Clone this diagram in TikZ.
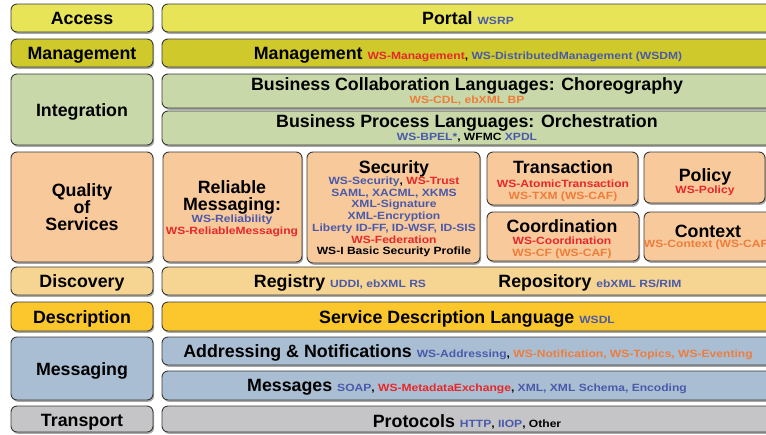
\documentclass[tikz,border=0pt]{standalone}
\usepackage{fontspec}
\setmainfont{Liberation Sans}
\newfontfamily\subfam[FakeStretch=1.15]{Liberation Sans}
\usetikzlibrary{shadows}
\definecolor{cAccess}{RGB}{231,228,88}
\definecolor{cMgmt}{RGB}{207,201,44}
\definecolor{cInteg}{RGB}{200,216,168}
\definecolor{cQos}{RGB}{248,201,155}
\definecolor{cDisc}{RGB}{246,212,145}
\definecolor{cDesc}{RGB}{251,199,44}
\definecolor{cMsg}{RGB}{169,190,211}
\definecolor{cTrans}{RGB}{197,197,199}
\definecolor{cBorder}{RGB}{58,58,58}
\definecolor{tblue}{RGB}{74,90,170}
\definecolor{tred}{RGB}{230,40,40}
\definecolor{torange}{RGB}{238,125,60}
\newcommand\mainfnt{\fontsize{17.8}{17.8}\selectfont\bfseries}
\newcommand\subtx{\subfam\fontsize{10.5}{11.7}\selectfont\bfseries}
\newcommand\cbl[1]{{\color{tblue}#1}}
\newcommand\crd[1]{{\color{tred}#1}}
\newcommand\cor[1]{{\color{torange}#1}}
\tikzset{
  box/.style={draw=cBorder, line width=0.9pt, rounded corners=6pt,
    drop shadow={shadow xshift=1.2pt, shadow yshift=-1.8pt, fill=black, opacity=0.35}},
  lbl/.style={anchor=base, inner sep=0pt, font=\mainfnt},
  sub/.style={anchor=base, inner sep=0pt, font=\subtx},
}
\begin{document}
\begin{tikzpicture}[x=1pt,y=-1pt]
\useasboundingbox (0,0) rectangle (766,434);
\clip (0,0) rectangle (766,434);
% Access
\draw[box,fill=cAccess] (11,4) rectangle (153,32);
\draw[box,fill=cAccess] (162,4) rectangle (772,32);
% Management
\draw[box,fill=cMgmt] (11,39) rectangle (153,67);
\draw[box,fill=cMgmt] (162,39) rectangle (772,67);
% Integration
\draw[box,fill=cInteg] (11,74) rectangle (153,145);
\draw[box,fill=cInteg] (162,74) rectangle (772,108);
\draw[box,fill=cInteg] (162,111) rectangle (772,145);
% QoS
\draw[box,fill=cQos] (11,152) rectangle (153,262);
\draw[box,fill=cQos] (163,152) rectangle (302,262);
\draw[box,fill=cQos] (307,152) rectangle (480,263);
\draw[box,fill=cQos] (487,152) rectangle (638,205);
\draw[box,fill=cQos] (644,152) rectangle (765,203);
\draw[box,fill=cQos] (487,212) rectangle (639,261);
\draw[box,fill=cQos] (644,212) rectangle (775,261);
% Discovery
\draw[box,fill=cDisc] (11,267) rectangle (153,295);
\draw[box,fill=cDisc] (162,267) rectangle (772,295);
% Description
\draw[box,fill=cDesc] (11,302) rectangle (153,331);
\draw[box,fill=cDesc] (162,302) rectangle (772,331);
% Messaging
\draw[box,fill=cMsg] (11,337) rectangle (153,400);
\draw[box,fill=cMsg] (162,337) rectangle (772,365);
\draw[box,fill=cMsg] (162,371) rectangle (772,400);
% Transport
\draw[box,fill=cTrans] (11,406) rectangle (153,432);
\draw[box,fill=cTrans] (162,406) rectangle (772,432);

% left labels
\node[lbl] (lAccess) at (82,24.5) {Access};
\node[lbl] (lMgmt) at (82,59) {Management};
\node[lbl] (lInteg) at (82,116) {Integration};
\node[lbl] (lQa) at (82,196.5) {Quality};
\node[lbl] (lQb) at (82,213.5) {of};
\node[lbl] (lQc) at (82,230) {Services};
\node[lbl] (lDisc) at (82,287) {Discovery};
\node[lbl] (lDesc) at (82,323) {Description};
\node[lbl] (lMsg) at (82,375) {Messaging};
\node[lbl] (lTrans) at (82,426) {Transport};

% right rows
\node[lbl] (portal) at (468,24.5) {Portal {\subtx\cbl{WSRP}}};
\node[lbl] (mgmt) at (468,59) {Management {\subtx\crd{WS-Management}, \cbl{WS-DistributedManagement (WSDM)}}};
\node[lbl] (chor) at (467,90) {Business Collaboration Languages: Choreography};
\node[sub] (chorS) at (467,103) {\cor{WS-CDL, ebXML BP}};
\node[lbl] (orch) at (467,127) {Business Process Languages: Orchestration};
\node[sub] (orchS) at (467,140) {\cbl{WS-BPEL*}, WFMC \cbl{XPDL}};

% Reliable messaging
\node[lbl] (relA) at (232,193) {Reliable};
\node[lbl] (relB) at (232,210) {Messaging:};
\node[sub] (relC) at (232,222) {\cbl{WS-Reliability}};
\node[sub] (relD) at (232,234) {\crd{WS-ReliableMessaging}};

% Security
\node[lbl] (sec) at (394,173) {Security};
\node[sub] (secA) at (394,184.5) {\cbl{WS-Security}, \crd{WS-Trust}};
\node[sub] (secB) at (394,196.2) {\cbl{SAML, XACML, XKMS}};
\node[sub] (secC) at (394,207.9) {\cbl{XML-Signature}};
\node[sub] (secD) at (394,219.6) {\cbl{XML-Encryption}};
\node[sub] (secE) at (394,231.3) {\cbl{Liberty ID-FF, ID-WSF, ID-SIS}};
\node[sub] (secF) at (394,243) {\crd{WS-Federation}};
\node[sub] (secG) at (394,254.7) {WS-I Basic Security Profile};

% Transaction
\node[lbl] (tx) at (563,173) {Transaction};
\node[sub] (txA) at (563,187.5) {\crd{WS-AtomicTransaction}};
\node[sub] (txB) at (563,199.5) {\cor{WS-TXM (WS-CAF)}};

% Policy
\node[lbl] (pol) at (705,181) {Policy};
\node[sub] (polA) at (705,193.5) {\crd{WS-Policy}};

% Coordination
\node[lbl] (coord) at (562,232) {Coordination};
\node[sub] (coordA) at (562,244) {\crd{WS-Coordination}};
\node[sub] (coordB) at (562,256) {\cor{WS-CF (WS-CAF)}};

% Context
\node[lbl] (ctx) at (708,237) {Context};
\node[sub] (ctxA) at (708,247.5) {\cor{WS-Context (WS-CAF)}};

% Discovery
\node[lbl] (reg) at (340,287) {Registry {\subtx\cbl{UDDI, ebXML RS}}};
\node[lbl] (repo) at (590,287) {Repository {\subtx\cbl{ebXML RS/RIM}}};

% Description
\node[lbl] (wsdl) at (467,323) {Service Description Language {\subtx\cbl{WSDL}}};

% Messaging
\node[lbl] (addr) at (468,357) {Addressing \& Notifications {\subtx\cbl{WS-Addressing}, \cor{WS-Notification, WS-Topics, WS-Eventing}}};
\node[lbl] (msgs) at (467,391) {Messages {\subtx\cbl{SOAP}, \crd{WS-MetadataExchange}, \cbl{XML, XML Schema, Encoding}}};

% Transport
\node[lbl] (proto) at (467,427) {Protocols {\subtx\cbl{HTTP}, \cbl{IIOP}, Other}};
\end{tikzpicture}
\end{document}
